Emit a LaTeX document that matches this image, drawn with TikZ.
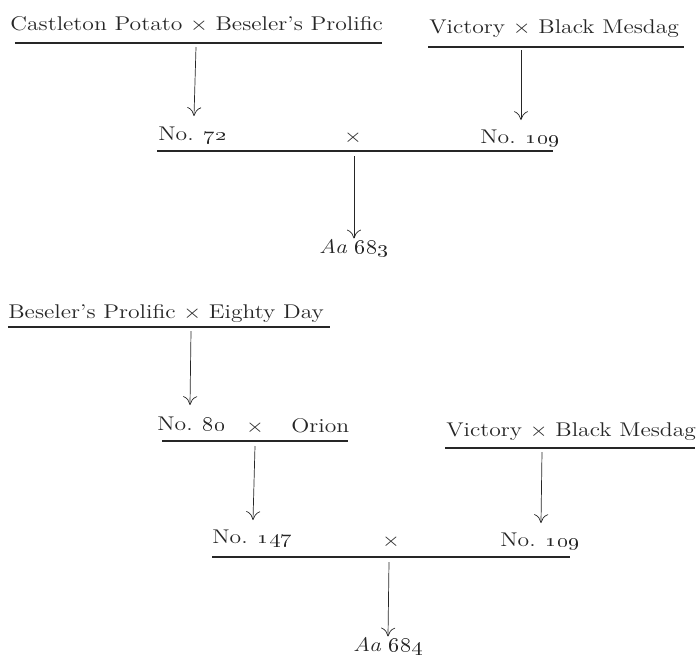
\documentclass[tikz,border=0pt]{standalone}
\usepackage{graphicx}
\usetikzlibrary{arrows.meta}
\newcommand{\os}[1]{\oldstylenums{#1}}
\newcommand{\widetxt}[1]{\scalebox{1.19}[1]{#1}}
\begin{document}
\begin{tikzpicture}[x=0.02cm,y=-0.02cm,font=\fontsize{11.3}{13}\selectfont,color=black!85,
    lbl/.style={anchor=base west,inner sep=0pt},
    mid/.style={anchor=base,inner sep=0pt},
    uline/.style={line width=0.8pt},
    gen/.style={-{To[length=5pt,width=8pt]},thin}]
\useasboundingbox (0,0) rectangle (698,654);
% first pedigree
\node[lbl] (cp) at (10,30) {\widetxt{Castleton Potato $\times$ Beseler's Prolific}};
\node[lbl] (vbA) at (429,33) {\widetxt{Victory $\times$ Black Mesdag}};
\coordinate (cpL) at (15,43); \coordinate (cpR) at (382,43);
\coordinate (vbAL) at (428,47); \coordinate (vbAR) at (684,47);
\draw[uline] (cpL)--(cpR);
\draw[uline] (vbAL)--(vbAR);
\node[lbl] (n72) at (158,140) {\widetxt{No. \os{72}}};
\node[mid] (xA) at (353,142) {\widetxt{$\times$}};
\node[lbl] (n109A) at (480,143) {\widetxt{No. \os{109}}};
\coordinate (mA1) at (196,47); \coordinate (mA2) at (194,116);
\coordinate (mB1) at (521,50); \coordinate (mB2) at (521,120);
\draw[gen] (mA1)--(mA2);
\draw[gen] (mB1)--(mB2);
\coordinate (rAL) at (157,151); \coordinate (rAR) at (553,151);
\draw[uline] (rAL)--(rAR);
\node[mid] (aa683) at (354,253) {\widetxt{\textit{Aa} \os{683}}};
\coordinate (mC1) at (354,156);
\draw[gen] (mC1)--(aa683.north);
% second pedigree
\node[lbl] (bp) at (8,318) {\widetxt{Beseler's Prolific $\times$ Eighty Day}};
\coordinate (bpL) at (8,327); \coordinate (bpR) at (330,327);
\draw[uline] (bpL)--(bpR);
\node[lbl] (n80) at (157,430) {\widetxt{No. \os{80}}};
\node[mid] (xB) at (255,432) {\widetxt{$\times$}};
\node[lbl] (ori) at (291,432) {\widetxt{Orion}};
\coordinate (oL) at (162,441); \coordinate (oR) at (348,441);
\draw[uline] (oL)--(oR);
\coordinate (mD1) at (191,331); \coordinate (mD2) at (190,405);
\draw[gen] (mD1)--(mD2);
\node[lbl] (vbB) at (446,436) {\widetxt{Victory $\times$ Black Mesdag}};
\coordinate (vbBL) at (445,448); \coordinate (vbBR) at (695,448);
\draw[uline] (vbBL)--(vbBR);
\node[lbl] (n147) at (212,543) {\widetxt{No. \os{147}}};
\node[mid] (xC) at (391,546) {\widetxt{$\times$}};
\node[lbl] (n109B) at (500,546) {\widetxt{No. \os{109}}};
\coordinate (mE1) at (255,446); \coordinate (mE2) at (253,520);
\coordinate (mF1) at (542,452); \coordinate (mF2) at (541,523);
\draw[gen] (mE1)--(mE2);
\draw[gen] (mF1)--(mF2);
\coordinate (rBL) at (212,557); \coordinate (rBR) at (570,557);
\draw[uline] (rBL)--(rBR);
\node[mid] (aa684) at (388,651) {\widetxt{\textit{Aa} \os{684}}};
\coordinate (mG1) at (389,562);
\draw[gen] (mG1)--(aa684.north);
\end{tikzpicture}
\end{document}
